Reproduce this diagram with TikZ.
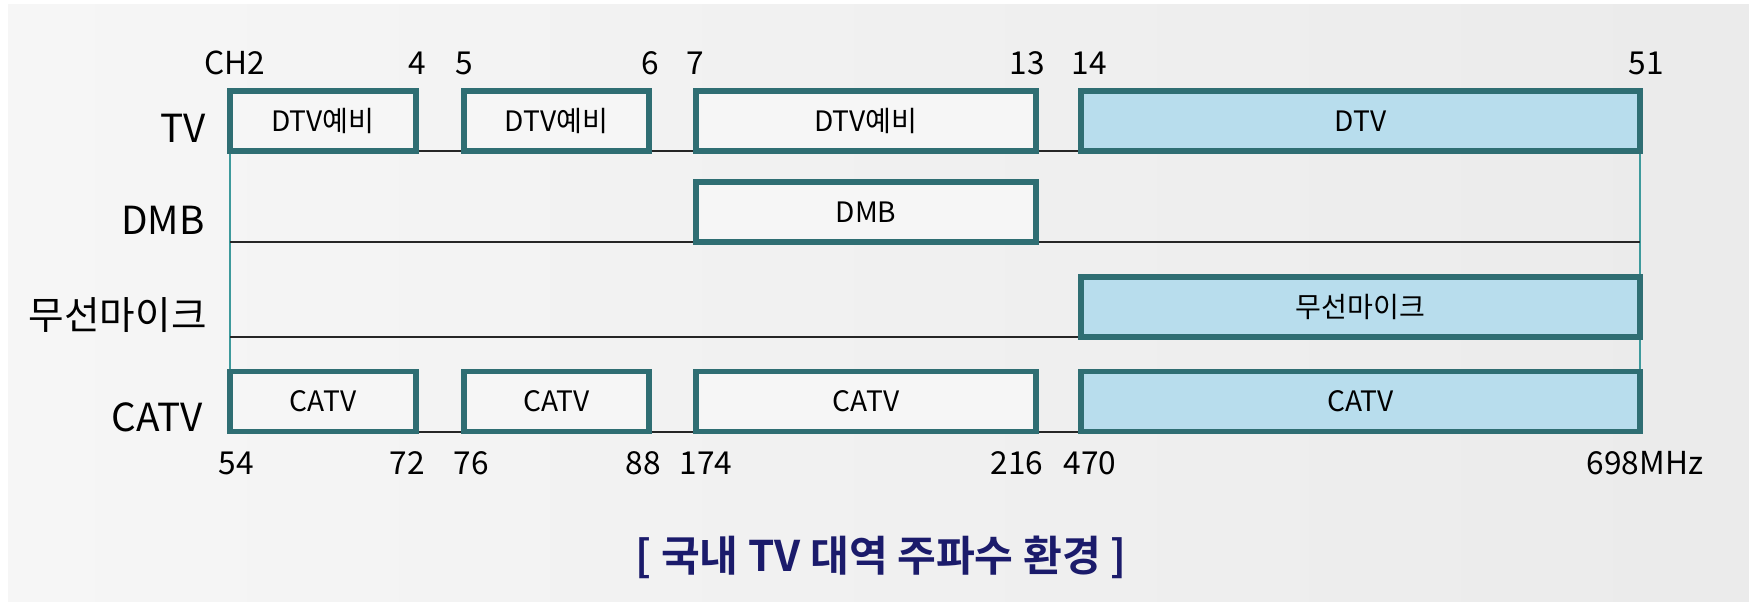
\documentclass[tikz,border=0pt]{standalone}
\usepackage{fontspec}
\setmainfont{Noto Sans CJK KR}[BoldFont={Noto Sans CJK KR Bold}]
\usepackage{xcolor}
\usetikzlibrary{positioning}
\definecolor{bandline}{HTML}{2F6E73}
\definecolor{bandblue}{HTML}{B8DDED}
\definecolor{bandwhite}{HTML}{F6F6F6}
\definecolor{axisline}{HTML}{3E9A9C}
\definecolor{capcolor}{HTML}{1B1B6B}
\tikzset{
  band/.style={draw=bandline, line width=3pt, fill=bandwhite, inner sep=0pt,
    minimum height=1.2cm, font=\fontsize{16}{18}\selectfont},
  blueband/.style={band, fill=bandblue},
  rowlabel/.style={anchor=east, inner xsep=0pt, font=\fontsize{22}{25}\selectfont},
  freq/.style={font=\fontsize{18}{20}\selectfont},
  rowline/.style={line width=1.1pt, black!85},
  axis/.style={line width=1.2pt, axisline}
}

\begin{document}
\begin{tikzpicture}[x=0.02cm, y=-0.02cm]
\useasboundingbox (0,0) rectangle (1749,602);
\fill[white] (0,0) rectangle (1749,602);
\shade[left color=gray!7, right color=gray!16] (8,4) rectangle (1749,602);

% row ends
\coordinate (tvL) at (230,151);
\coordinate (tvR) at (1640,151);
\coordinate (dmbL) at (230,242);
\coordinate (dmbR) at (1640,242);
\coordinate (micL) at (230,337);
\coordinate (micR) at (1640,337);
\coordinate (catvL) at (230,432);
\coordinate (catvR) at (1640,432);
\coordinate (catvTL) at (230,371);
\coordinate (catvTR) at (1640,371);

\draw[axis] (tvL) -- (catvTL);
\draw[axis] (tvR) -- (catvTR);
\draw[rowline] (tvL) -- (tvR);
\draw[rowline] (dmbL) -- (dmbR);
\draw[rowline] (micL) -- (micR);
\draw[rowline] (catvL) -- (catvR);

% TV
\foreach \a/\b/\n in {230/416/tv1, 464/649/tv2, 696/1036/tv3}
  \node[band, minimum width={(\b-\a)*0.02cm}] (\n) at ({(\a+\b)/2},121) {DTV예비};
\node[blueband, minimum width={559*0.02cm}] (tv4) at (1360.5,121) {DTV};

% DMB and mic
\node[band, minimum width={340*0.02cm}] (dmb) at (866,212) {DMB};
\node[blueband, minimum width={559*0.02cm}] (mic) at (1360.5,307) {무선마이크};

% CATV
\foreach \a/\b/\n in {230/416/catv1, 464/649/catv2, 696/1036/catv3}
  \node[band, minimum width={(\b-\a)*0.02cm}] (\n) at ({(\a+\b)/2},401.5) {CATV};
\node[blueband, minimum width={559*0.02cm}] (catv4) at (1360.5,401.5) {CATV};

% row labels
\node[rowlabel] (lbltv) at (206,128) {TV};
\node[rowlabel] (lbldmb) at (205,220) {DMB};
\node[rowlabel] (lblmic) at (207,315) {무선마이크};
\node[rowlabel] (lblcatv) at (203,417) {CATV};

% channels
\foreach \x/\t [count=\i] in {235/CH2, 417/4, 464/5, 650/6, 695/7, 1027/13, 1089/14, 1646/51}
  \node[freq] (ch\i) at (\x,63) {\t};

% frequencies
\foreach \x/\t [count=\i] in {236/54, 407/72, 471/76, 643/88, 706/174, 1017/216, 1090/470, 1645/698MHz}
  \node[freq] (mhz\i) at (\x,463) {\t};

\node[text=capcolor, font=\fontsize{24}{28}\selectfont\bfseries] (caption) at (881,557)
  {[ 국내 TV 대역 주파수 환경 ]};
\end{tikzpicture}
\end{document}
